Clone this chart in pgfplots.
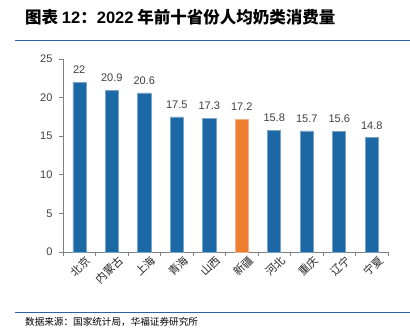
\documentclass[border=0pt]{standalone}
\usepackage{pgfplots}
\pgfplotsset{compat=1.18}
\usepackage{fontspec}
\setmainfont{Liberation Sans}
\newfontfamily\cjk{Noto Sans CJK SC}
\definecolor{barblue}{RGB}{28,104,164}
\definecolor{barorange}{RGB}{237,125,49}
\definecolor{lineblue}{RGB}{46,95,168}
\definecolor{axgray}{RGB}{128,128,128}
\definecolor{txtgray}{RGB}{64,64,64}
\begin{document}
\begin{tikzpicture}[x=1pt,y=1pt]
\useasboundingbox (0,0) rectangle (410,330);
\fill[white] (0,0) rectangle (410,330);
\node[anchor=base west, inner sep=0] at (25,306) {\fontsize{16.5}{16.5}\selectfont\bfseries\cjk 图表 {\rmfamily 12}：{\rmfamily 2022} 年前十省份人均奶类消费量};
\draw[lineblue, line width=0.8pt] (15,290) -- (410,290);
\draw[lineblue, line width=0.8pt] (15,18) -- (410,18);
\node[anchor=base west, inner sep=0] at (25,5) {\fontsize{9.6}{9.6}\selectfont\cjk 数据来源：国家统计局，华福证券研究所};
\begin{axis}[
  at={(63pt,78pt)}, anchor=south west,
  scale only axis, width=325pt, height=193pt,
  xmin=-0.5, xmax=9.5, ymin=0, ymax=25,
  axis x line=bottom, axis y line=left,
  axis line style={draw=axgray, line width=0.8pt, -},
  tick align=outside,
  ytick={0,5,...,25},
  major tick length=4pt, minor tick length=4pt,
  ytick style={draw=axgray, line width=0.8pt},
  xtick={0,...,9},
  xticklabels={北京,内蒙古,上海,青海,山西,新疆,河北,重庆,辽宁,宁夏},
  major x tick style={draw=none},
  minor xtick={-0.5,0.5,...,9.5},
  minor x tick style={draw=axgray, line width=0.8pt},
  /pgf/number format/assume math mode=true,
  yticklabel style={font=\fontsize{11}{11}\selectfont, text=txtgray, xshift=-3pt},
  xticklabel style={font=\cjk\fontsize{11}{11}\selectfont, text=black!85, rotate=45, anchor=north east, inner sep=1pt, xshift=6pt, yshift=-2pt},
  ybar, bar width=13pt, bar shift=0pt,
  nodes near coords,
  every node near coord/.append style={font=\fontsize{11}{11}\selectfont, text=txtgray, yshift=5pt},
  clip=false,
]
\addplot[fill=barblue, draw=barblue!60!white, line width=0.5pt] coordinates {
  (0,22) (1,20.9) (2,20.6) (3,17.5) (4,17.3) (6,15.8) (7,15.7) (8,15.6) (9,14.8)};
\addplot[fill=barorange, draw=barorange!60!white, line width=0.5pt] coordinates {(5,17.2)};
\end{axis}
\end{tikzpicture}
\end{document}
